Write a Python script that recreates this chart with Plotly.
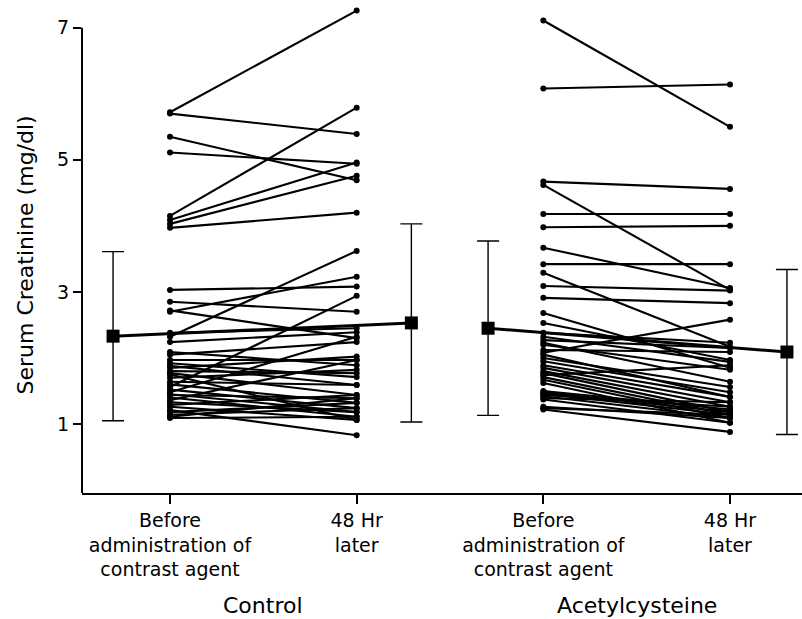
import plotly.graph_objects as go

# ---- data ----
control_before = [5.72, 5.70, 5.35, 5.11, 4.15, 4.09, 4.03, 3.97, 3.03, 2.85, 2.70, 2.72,
                  2.38, 2.32, 2.24, 2.09, 2.05, 1.97, 1.92, 1.85, 1.80, 1.77, 1.70, 1.64,
                  1.56, 1.52, 1.48, 1.44, 1.40, 1.36, 1.33, 1.29, 1.26, 1.21, 1.18, 1.14,
                  1.11, 1.09, 1.45, 1.60, 1.75, 1.88]
control_after = [7.26, 5.39, 4.69, 4.94, 5.79, 4.96, 4.76, 4.20, 3.08, 2.70, 3.23, 2.30,
                 2.45, 3.62, 2.39, 1.89, 2.24, 1.97, 1.71, 2.02, 1.77, 1.44, 1.82, 1.59,
                 2.94, 1.24, 2.32, 1.39, 1.11, 1.97, 1.18, 1.44, 1.06, 0.83, 1.32, 1.24,
                 1.39, 1.11, 1.18, 1.32, 1.06, 1.59]
acetyl_before = [7.11, 6.08, 4.67, 4.62, 4.18, 3.98, 3.67, 3.42, 3.29, 3.09, 2.91, 2.68,
                 2.53, 2.38, 2.32, 2.27, 2.23, 2.12, 2.08, 2.00, 1.95, 1.89, 1.85, 1.80,
                 1.77, 1.71, 1.67, 1.62, 1.48, 1.46, 1.44, 1.42, 1.39, 1.37, 1.24, 1.22,
                 2.20, 2.05, 1.74, 1.50, 1.26]
acetyl_after = [5.50, 6.14, 4.56, 3.03, 4.18, 4.00, 3.06, 3.42, 2.17, 3.02, 2.83, 1.85,
                1.97, 2.23, 1.94, 2.15, 1.64, 2.09, 2.58, 1.56, 1.48, 1.41, 1.33, 1.26,
                1.18, 1.14, 1.09, 1.02, 1.18, 1.14, 1.26, 1.09, 1.33, 1.02, 1.14, 0.88,
                1.82, 1.41, 1.89, 1.22, 1.09]

# group means and SD
control_mean = [2.33, 2.53]
control_sd = [1.28, 1.50]
acetyl_mean = [2.45, 2.09]
acetyl_sd = [1.32, 1.25]

tick_labels = ["Before<br>administration of<br>contrast agent", "48 Hr<br>later",
               "Before<br>administration of<br>contrast agent", "48 Hr<br>later"]
group_labels = ["Control", "Acetylcysteine"]
y_ticks = [1, 3, 5, 7]
y_title = "Serum Creatinine (mg/dl)"

# ---- layout constants ----
tick_pos = [1, 2, 3, 4]
mean_pos = [[0.695, 2.293], [2.704, 4.305]]
FONT = "DejaVu Sans, Liberation Sans, Arial, sans-serif"

fig = go.Figure()

def add_pairs(before, after, x0, x1):
    xs, ys = [], []
    for b, a in zip(before, after):
        xs += [x0, x1, None]
        ys += [b, a, None]
    fig.add_trace(go.Scatter(x=xs, y=ys, mode="lines+markers",
                             line=dict(color="black", width=2.1),
                             marker=dict(color="black", size=6),
                             showlegend=False, hoverinfo="skip"))

add_pairs(control_before, control_after, tick_pos[0], tick_pos[1])
add_pairs(acetyl_before, acetyl_after, tick_pos[2], tick_pos[3])

for pos, mean, sd in [(mean_pos[0], control_mean, control_sd),
                      (mean_pos[1], acetyl_mean, acetyl_sd)]:
    fig.add_trace(go.Scatter(x=pos, y=mean, mode="lines+markers",
                             line=dict(color="black", width=3),
                             marker=dict(color="black", size=13, symbol="square"),
                             error_y=dict(type="data", array=sd, color="black",
                                          thickness=1.4, width=11),
                             cliponaxis=False,
                             showlegend=False, hoverinfo="skip"))

for i, g in enumerate(group_labels):
    fig.add_annotation(x=(tick_pos[2 * i] + tick_pos[2 * i + 1]) / 2, y=0,
                       xref="x", yref="paper", yanchor="middle", yshift=-112,
                       text=g, showarrow=False,
                       font=dict(family=FONT, size=22, color="black"))

fig.add_annotation(x=0, y=0.5, xref="paper", yref="paper", xshift=-57, yshift=-9,
                   xanchor="center", yanchor="middle", textangle=-90,
                   text=y_title, showarrow=False,
                   font=dict(family=FONT, size=22, color="black"))

# y-axis line from bottom up to 7
fig.add_shape(type="line", xref="paper", yref="y", x0=0, x1=0, y0=-0.045, y1=7,
              line=dict(color="black", width=2))

fig.update_layout(
    width=802, height=619,
    margin=dict(l=82, r=0, t=0, b=126),
    plot_bgcolor="white", paper_bgcolor="white",
    font=dict(family=FONT, color="black"),
    xaxis=dict(range=[0.5286, 4.3857], tickmode="array", tickvals=tick_pos,
               ticktext=tick_labels, ticks="outside", ticklen=9, tickwidth=2,
               tickcolor="black", showline=True, linecolor="black", linewidth=2,
               showgrid=False, zeroline=False, automargin=False,
               tickfont=dict(family=FONT, size=19, color="black")),
    yaxis=dict(range=[-0.045, 7.42], tickmode="array", tickvals=y_ticks,
               ticks="outside", ticklen=8, tickwidth=1.5, tickcolor="black",
               showline=False, showgrid=False, zeroline=False, automargin=False,
               tickfont=dict(size=19, family=FONT, color="black")),
)

fig.write_html("out.html", config={"displayModeBar": False},
               post_script="document.body.style.margin='0';document.body.style.padding='0';")
